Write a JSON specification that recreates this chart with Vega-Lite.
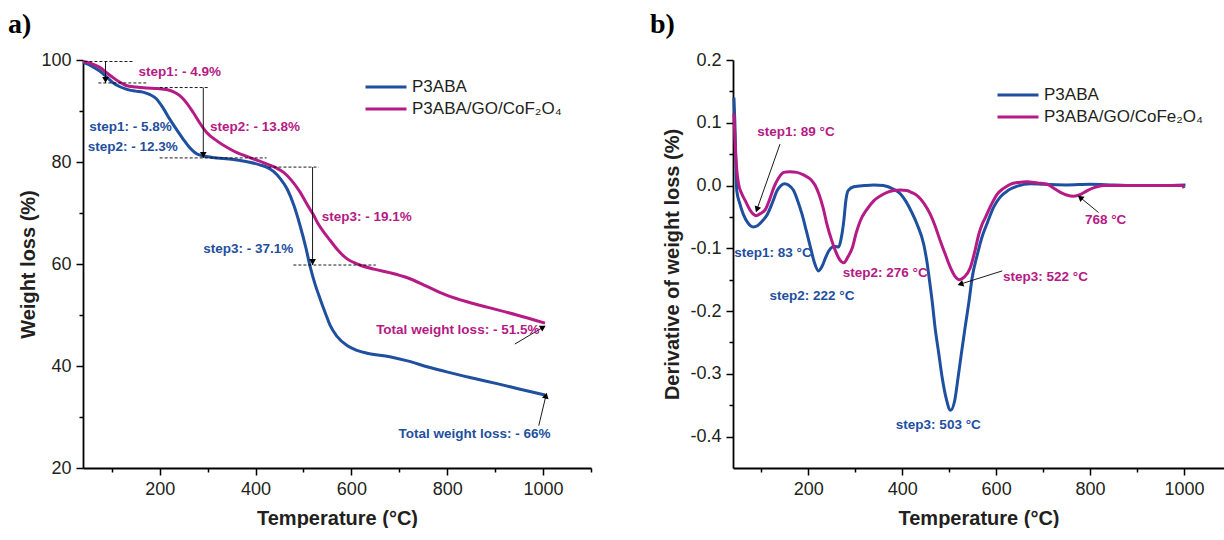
{
  "$schema": "https://vega.github.io/schema/vega-lite/v6.json",
  "padding": {"left": 7, "top": 11, "right": 0, "bottom": 0},
  "spacing": 57,
  "config": {
    "view": {"stroke": null},
    "axis": {"domainColor": "#000", "domainWidth": 1.8, "tickColor": "#000", "tickWidth": 1.5, "tickSize": 7, "labelFont": "Liberation Sans", "labelFontSize": 18, "labelColor": "#231f20", "labelPadding": 5, "titleFont": "Liberation Sans", "titleFontSize": 20, "titleFontWeight": "bold", "titleColor": "#231f20", "grid": false, "labelFlush": false},
    "text": {"font": "Liberation Sans", "fontWeight": "bold", "fontSize": 13.5}
  },
  "resolve": {"scale": {"color": "independent"}, "legend": {"color": "independent"}},
  "datasets": {
    "tga": [
      {"T":40,"W":99.5,"s":"P3ABA"},{"T":50,"W":99.2,"s":"P3ABA"},{"T":60,"W":98.7,"s":"P3ABA"},{"T":74,"W":97.9,"s":"P3ABA"},{"T":88,"W":96.8,"s":"P3ABA"},{"T":102,"W":95.6,"s":"P3ABA"},{"T":116,"W":94.8,"s":"P3ABA"},{"T":130,"W":94.3,"s":"P3ABA"},{"T":150,"W":93.9,"s":"P3ABA"},{"T":165,"W":93.7,"s":"P3ABA"},{"T":180,"W":93.2,"s":"P3ABA"},{"T":193,"W":92.4,"s":"P3ABA"},{"T":207,"W":90.6,"s":"P3ABA"},{"T":221,"W":88.4,"s":"P3ABA"},{"T":235,"W":86.4,"s":"P3ABA"},{"T":249,"W":84.5,"s":"P3ABA"},{"T":263,"W":82.8,"s":"P3ABA"},{"T":277,"W":81.6,"s":"P3ABA"},{"T":290,"W":81.2,"s":"P3ABA"},{"T":310,"W":80.9,"s":"P3ABA"},{"T":354,"W":80.5,"s":"P3ABA"},{"T":390,"W":79.9,"s":"P3ABA"},{"T":410,"W":79.4,"s":"P3ABA"},{"T":425,"W":78.9,"s":"P3ABA"},{"T":438,"W":78.1,"s":"P3ABA"},{"T":452,"W":76.7,"s":"P3ABA"},{"T":466,"W":74.7,"s":"P3ABA"},{"T":480,"W":71.5,"s":"P3ABA"},{"T":493,"W":67.5,"s":"P3ABA"},{"T":505,"W":63.2,"s":"P3ABA"},{"T":514,"W":59.5,"s":"P3ABA"},{"T":525,"W":55.8,"s":"P3ABA"},{"T":535,"W":53.1,"s":"P3ABA"},{"T":546,"W":50.3,"s":"P3ABA"},{"T":556,"W":47.9,"s":"P3ABA"},{"T":570,"W":45.8,"s":"P3ABA"},{"T":591,"W":44.0,"s":"P3ABA"},{"T":610,"W":43.1,"s":"P3ABA"},{"T":633,"W":42.5,"s":"P3ABA"},{"T":680,"W":41.8,"s":"P3ABA"},{"T":717,"W":41.0,"s":"P3ABA"},{"T":760,"W":39.8,"s":"P3ABA"},{"T":801,"W":38.8,"s":"P3ABA"},{"T":850,"W":37.7,"s":"P3ABA"},{"T":906,"W":36.5,"s":"P3ABA"},{"T":950,"W":35.5,"s":"P3ABA"},{"T":1004,"W":34.3,"s":"P3ABA"},
      {"T":40,"W":99.7,"s":"P3ABA/GO/CoF₂O₄"},{"T":55,"W":99.4,"s":"P3ABA/GO/CoF₂O₄"},{"T":74,"W":98.6,"s":"P3ABA/GO/CoF₂O₄"},{"T":88,"W":97.6,"s":"P3ABA/GO/CoF₂O₄"},{"T":102,"W":96.6,"s":"P3ABA/GO/CoF₂O₄"},{"T":116,"W":95.7,"s":"P3ABA/GO/CoF₂O₄"},{"T":130,"W":95.0,"s":"P3ABA/GO/CoF₂O₄"},{"T":150,"W":94.7,"s":"P3ABA/GO/CoF₂O₄"},{"T":172,"W":94.5,"s":"P3ABA/GO/CoF₂O₄"},{"T":195,"W":94.4,"s":"P3ABA/GO/CoF₂O₄"},{"T":214,"W":94.2,"s":"P3ABA/GO/CoF₂O₄"},{"T":228,"W":93.8,"s":"P3ABA/GO/CoF₂O₄"},{"T":242,"W":93.0,"s":"P3ABA/GO/CoF₂O₄"},{"T":256,"W":91.6,"s":"P3ABA/GO/CoF₂O₄"},{"T":270,"W":89.7,"s":"P3ABA/GO/CoF₂O₄"},{"T":284,"W":87.6,"s":"P3ABA/GO/CoF₂O₄"},{"T":298,"W":85.8,"s":"P3ABA/GO/CoF₂O₄"},{"T":320,"W":84.1,"s":"P3ABA/GO/CoF₂O₄"},{"T":340,"W":82.9,"s":"P3ABA/GO/CoF₂O₄"},{"T":360,"W":81.9,"s":"P3ABA/GO/CoF₂O₄"},{"T":382,"W":81.1,"s":"P3ABA/GO/CoF₂O₄"},{"T":404,"W":80.3,"s":"P3ABA/GO/CoF₂O₄"},{"T":424,"W":79.6,"s":"P3ABA/GO/CoF₂O₄"},{"T":442,"W":78.9,"s":"P3ABA/GO/CoF₂O₄"},{"T":458,"W":78.0,"s":"P3ABA/GO/CoF₂O₄"},{"T":475,"W":76.4,"s":"P3ABA/GO/CoF₂O₄"},{"T":493,"W":74.1,"s":"P3ABA/GO/CoF₂O₄"},{"T":508,"W":71.6,"s":"P3ABA/GO/CoF₂O₄"},{"T":521,"W":69.6,"s":"P3ABA/GO/CoF₂O₄"},{"T":530,"W":68.0,"s":"P3ABA/GO/CoF₂O₄"},{"T":542,"W":66.3,"s":"P3ABA/GO/CoF₂O₄"},{"T":556,"W":64.6,"s":"P3ABA/GO/CoF₂O₄"},{"T":572,"W":62.7,"s":"P3ABA/GO/CoF₂O₄"},{"T":591,"W":61.0,"s":"P3ABA/GO/CoF₂O₄"},{"T":615,"W":59.9,"s":"P3ABA/GO/CoF₂O₄"},{"T":647,"W":59.0,"s":"P3ABA/GO/CoF₂O₄"},{"T":680,"W":58.3,"s":"P3ABA/GO/CoF₂O₄"},{"T":717,"W":57.3,"s":"P3ABA/GO/CoF₂O₄"},{"T":760,"W":55.5,"s":"P3ABA/GO/CoF₂O₄"},{"T":801,"W":53.8,"s":"P3ABA/GO/CoF₂O₄"},{"T":845,"W":52.5,"s":"P3ABA/GO/CoF₂O₄"},{"T":885,"W":51.5,"s":"P3ABA/GO/CoF₂O₄"},{"T":945,"W":50.0,"s":"P3ABA/GO/CoF₂O₄"},{"T":1004,"W":48.4,"s":"P3ABA/GO/CoF₂O₄"}
    ],
    "dtg": [
      {"T":42,"D":0.140,"s":"P3ABA"},{"T":44,"D":0.10,"s":"P3ABA"},{"T":46,"D":0.04,"s":"P3ABA"},{"T":48,"D":-0.008,"s":"P3ABA"},{"T":55,"D":-0.030,"s":"P3ABA"},{"T":62,"D":-0.046,"s":"P3ABA"},{"T":72,"D":-0.060,"s":"P3ABA"},{"T":83,"D":-0.066,"s":"P3ABA"},{"T":92,"D":-0.064,"s":"P3ABA"},{"T":102,"D":-0.057,"s":"P3ABA"},{"T":113,"D":-0.046,"s":"P3ABA"},{"T":124,"D":-0.027,"s":"P3ABA"},{"T":134,"D":-0.008,"s":"P3ABA"},{"T":142,"D":0.000,"s":"P3ABA"},{"T":150,"D":0.003,"s":"P3ABA"},{"T":158,"D":0.001,"s":"P3ABA"},{"T":169,"D":-0.008,"s":"P3ABA"},{"T":178,"D":-0.025,"s":"P3ABA"},{"T":187,"D":-0.046,"s":"P3ABA"},{"T":196,"D":-0.072,"s":"P3ABA"},{"T":205,"D":-0.099,"s":"P3ABA"},{"T":213,"D":-0.122,"s":"P3ABA"},{"T":222,"D":-0.136,"s":"P3ABA"},{"T":230,"D":-0.128,"s":"P3ABA"},{"T":237,"D":-0.115,"s":"P3ABA"},{"T":244,"D":-0.104,"s":"P3ABA"},{"T":251,"D":-0.098,"s":"P3ABA"},{"T":258,"D":-0.097,"s":"P3ABA"},{"T":265,"D":-0.098,"s":"P3ABA"},{"T":270,"D":-0.085,"s":"P3ABA"},{"T":276,"D":-0.055,"s":"P3ABA"},{"T":280,"D":-0.025,"s":"P3ABA"},{"T":285,"D":-0.008,"s":"P3ABA"},{"T":297,"D":-0.002,"s":"P3ABA"},{"T":320,"D":0.000,"s":"P3ABA"},{"T":340,"D":0.001,"s":"P3ABA"},{"T":360,"D":0.000,"s":"P3ABA"},{"T":382,"D":-0.006,"s":"P3ABA"},{"T":396,"D":-0.013,"s":"P3ABA"},{"T":407,"D":-0.024,"s":"P3ABA"},{"T":420,"D":-0.042,"s":"P3ABA"},{"T":432,"D":-0.062,"s":"P3ABA"},{"T":446,"D":-0.094,"s":"P3ABA"},{"T":452,"D":-0.118,"s":"P3ABA"},{"T":458,"D":-0.150,"s":"P3ABA"},{"T":464,"D":-0.185,"s":"P3ABA"},{"T":470,"D":-0.226,"s":"P3ABA"},{"T":478,"D":-0.268,"s":"P3ABA"},{"T":485,"D":-0.305,"s":"P3ABA"},{"T":494,"D":-0.340,"s":"P3ABA"},{"T":503,"D":-0.358,"s":"P3ABA"},{"T":512,"D":-0.342,"s":"P3ABA"},{"T":519,"D":-0.306,"s":"P3ABA"},{"T":526,"D":-0.268,"s":"P3ABA"},{"T":534,"D":-0.226,"s":"P3ABA"},{"T":542,"D":-0.186,"s":"P3ABA"},{"T":549,"D":-0.147,"s":"P3ABA"},{"T":560,"D":-0.110,"s":"P3ABA"},{"T":570,"D":-0.082,"s":"P3ABA"},{"T":581,"D":-0.060,"s":"P3ABA"},{"T":595,"D":-0.034,"s":"P3ABA"},{"T":609,"D":-0.018,"s":"P3ABA"},{"T":625,"D":-0.008,"s":"P3ABA"},{"T":645,"D":-0.001,"s":"P3ABA"},{"T":673,"D":0.003,"s":"P3ABA"},{"T":700,"D":0.002,"s":"P3ABA"},{"T":750,"D":0.001,"s":"P3ABA"},{"T":800,"D":0.002,"s":"P3ABA"},{"T":850,"D":0.001,"s":"P3ABA"},{"T":900,"D":0.000,"s":"P3ABA"},{"T":950,"D":0.000,"s":"P3ABA"},{"T":1003,"D":0.001,"s":"P3ABA"},
      {"T":42,"D":0.115,"s":"P3ABA/GO/CoFe₂O₄"},{"T":45,"D":0.06,"s":"P3ABA/GO/CoFe₂O₄"},{"T":48,"D":0.025,"s":"P3ABA/GO/CoFe₂O₄"},{"T":52,"D":0.002,"s":"P3ABA/GO/CoFe₂O₄"},{"T":58,"D":-0.012,"s":"P3ABA/GO/CoFe₂O₄"},{"T":66,"D":-0.024,"s":"P3ABA/GO/CoFe₂O₄"},{"T":77,"D":-0.040,"s":"P3ABA/GO/CoFe₂O₄"},{"T":89,"D":-0.048,"s":"P3ABA/GO/CoFe₂O₄"},{"T":100,"D":-0.044,"s":"P3ABA/GO/CoFe₂O₄"},{"T":109,"D":-0.038,"s":"P3ABA/GO/CoFe₂O₄"},{"T":118,"D":-0.022,"s":"P3ABA/GO/CoFe₂O₄"},{"T":127,"D":-0.003,"s":"P3ABA/GO/CoFe₂O₄"},{"T":137,"D":0.012,"s":"P3ABA/GO/CoFe₂O₄"},{"T":148,"D":0.021,"s":"P3ABA/GO/CoFe₂O₄"},{"T":160,"D":0.022,"s":"P3ABA/GO/CoFe₂O₄"},{"T":176,"D":0.021,"s":"P3ABA/GO/CoFe₂O₄"},{"T":190,"D":0.017,"s":"P3ABA/GO/CoFe₂O₄"},{"T":205,"D":0.010,"s":"P3ABA/GO/CoFe₂O₄"},{"T":215,"D":0.000,"s":"P3ABA/GO/CoFe₂O₄"},{"T":223,"D":-0.014,"s":"P3ABA/GO/CoFe₂O₄"},{"T":232,"D":-0.036,"s":"P3ABA/GO/CoFe₂O₄"},{"T":240,"D":-0.062,"s":"P3ABA/GO/CoFe₂O₄"},{"T":249,"D":-0.085,"s":"P3ABA/GO/CoFe₂O₄"},{"T":258,"D":-0.104,"s":"P3ABA/GO/CoFe₂O₄"},{"T":267,"D":-0.118,"s":"P3ABA/GO/CoFe₂O₄"},{"T":276,"D":-0.123,"s":"P3ABA/GO/CoFe₂O₄"},{"T":285,"D":-0.113,"s":"P3ABA/GO/CoFe₂O₄"},{"T":294,"D":-0.099,"s":"P3ABA/GO/CoFe₂O₄"},{"T":302,"D":-0.076,"s":"P3ABA/GO/CoFe₂O₄"},{"T":311,"D":-0.056,"s":"P3ABA/GO/CoFe₂O₄"},{"T":325,"D":-0.038,"s":"P3ABA/GO/CoFe₂O₄"},{"T":340,"D":-0.024,"s":"P3ABA/GO/CoFe₂O₄"},{"T":355,"D":-0.016,"s":"P3ABA/GO/CoFe₂O₄"},{"T":368,"D":-0.011,"s":"P3ABA/GO/CoFe₂O₄"},{"T":382,"D":-0.008,"s":"P3ABA/GO/CoFe₂O₄"},{"T":396,"D":-0.007,"s":"P3ABA/GO/CoFe₂O₄"},{"T":410,"D":-0.008,"s":"P3ABA/GO/CoFe₂O₄"},{"T":420,"D":-0.011,"s":"P3ABA/GO/CoFe₂O₄"},{"T":432,"D":-0.016,"s":"P3ABA/GO/CoFe₂O₄"},{"T":446,"D":-0.028,"s":"P3ABA/GO/CoFe₂O₄"},{"T":460,"D":-0.046,"s":"P3ABA/GO/CoFe₂O₄"},{"T":470,"D":-0.064,"s":"P3ABA/GO/CoFe₂O₄"},{"T":481,"D":-0.088,"s":"P3ABA/GO/CoFe₂O₄"},{"T":492,"D":-0.110,"s":"P3ABA/GO/CoFe₂O₄"},{"T":503,"D":-0.131,"s":"P3ABA/GO/CoFe₂O₄"},{"T":513,"D":-0.145,"s":"P3ABA/GO/CoFe₂O₄"},{"T":522,"D":-0.150,"s":"P3ABA/GO/CoFe₂O₄"},{"T":532,"D":-0.146,"s":"P3ABA/GO/CoFe₂O₄"},{"T":545,"D":-0.131,"s":"P3ABA/GO/CoFe₂O₄"},{"T":554,"D":-0.107,"s":"P3ABA/GO/CoFe₂O₄"},{"T":563,"D":-0.078,"s":"P3ABA/GO/CoFe₂O₄"},{"T":570,"D":-0.062,"s":"P3ABA/GO/CoFe₂O₄"},{"T":577,"D":-0.051,"s":"P3ABA/GO/CoFe₂O₄"},{"T":590,"D":-0.030,"s":"P3ABA/GO/CoFe₂O₄"},{"T":602,"D":-0.014,"s":"P3ABA/GO/CoFe₂O₄"},{"T":615,"D":-0.005,"s":"P3ABA/GO/CoFe₂O₄"},{"T":630,"D":0.002,"s":"P3ABA/GO/CoFe₂O₄"},{"T":648,"D":0.005,"s":"P3ABA/GO/CoFe₂O₄"},{"T":666,"D":0.006,"s":"P3ABA/GO/CoFe₂O₄"},{"T":688,"D":0.004,"s":"P3ABA/GO/CoFe₂O₄"},{"T":709,"D":0.002,"s":"P3ABA/GO/CoFe₂O₄"},{"T":722,"D":-0.004,"s":"P3ABA/GO/CoFe₂O₄"},{"T":737,"D":-0.011,"s":"P3ABA/GO/CoFe₂O₄"},{"T":750,"D":-0.015,"s":"P3ABA/GO/CoFe₂O₄"},{"T":765,"D":-0.017,"s":"P3ABA/GO/CoFe₂O₄"},{"T":780,"D":-0.014,"s":"P3ABA/GO/CoFe₂O₄"},{"T":794,"D":-0.008,"s":"P3ABA/GO/CoFe₂O₄"},{"T":810,"D":-0.003,"s":"P3ABA/GO/CoFe₂O₄"},{"T":829,"D":0.000,"s":"P3ABA/GO/CoFe₂O₄"},{"T":870,"D":0.000,"s":"P3ABA/GO/CoFe₂O₄"},{"T":914,"D":0.000,"s":"P3ABA/GO/CoFe₂O₄"},{"T":960,"D":0.000,"s":"P3ABA/GO/CoFe₂O₄"},{"T":996,"D":0.000,"s":"P3ABA/GO/CoFe₂O₄"},{"T":1000,"D":-0.004,"s":"P3ABA/GO/CoFe₂O₄"}
    ],
    "dashA": [
      {"y":99.7,"x1":43,"x2":144},{"y":95.5,"x1":72,"x2":172},{"y":94.6,"x1":200,"x2":301},{"y":80.8,"x1":200,"x2":423},{"y":79.0,"x1":427,"x2":532},{"y":59.8,"x1":479,"x2":651}
    ],
    "vArrA": [
      {"x":87,"y":99.7,"y2":95.5},{"x":291,"y":94.6,"y2":80.8},{"x":519,"y":79.0,"y2":59.8}
    ],
    "oArrA": [
      {"id":"totM","x":941,"y":44.3,"x2":1000,"y2":47.6},{"id":"totB","x":991,"y":28.3,"x2":1006,"y2":34.2}
    ],
    "oArrB": [
      {"id":"s1","x":140,"y":0.066,"x2":91,"y2":-0.038},{"id":"s3","x":613,"y":-0.136,"x2":524,"y2":-0.157},{"id":"s768","x":818,"y":-0.043,"x2":779,"y2":-0.019}
    ],
    "txtA": [
      {"T":242,"W":97.6,"label":"step1: - 4.9%","s":"P3ABA/GO/CoF₂O₄"},
      {"T":399,"W":86.8,"label":"step2: - 13.8%","s":"P3ABA/GO/CoF₂O₄"},
      {"T":139,"W":86.8,"label":"step1: - 5.8%","s":"P3ABA"},
      {"T":144,"W":82.9,"label":"step2: - 12.3%","s":"P3ABA"},
      {"T":385,"W":62.9,"label":"step3: - 37.1%","s":"P3ABA"},
      {"T":632,"W":69.2,"label":"step3: - 19.1%","s":"P3ABA/GO/CoF₂O₄"},
      {"T":822,"W":47.1,"label":"Total weight loss: - 51.5%","s":"P3ABA/GO/CoF₂O₄"},
      {"T":857,"W":26.7,"label":"Total weight loss: - 66%","s":"P3ABA"}
    ],
    "txtB": [
      {"T":174,"D":0.086,"label":"step1: 89 °C","s":"P3ABA/GO/CoFe₂O₄"},
      {"T":125,"D":-0.108,"label":"step1: 83 °C","s":"P3ABA"},
      {"T":208,"D":-0.176,"label":"step2: 222 °C","s":"P3ABA"},
      {"T":364,"D":-0.140,"label":"step2: 276 °C","s":"P3ABA/GO/CoFe₂O₄"},
      {"T":477,"D":-0.381,"label":"step3: 503 °C","s":"P3ABA"},
      {"T":705,"D":-0.145,"label":"step3: 522 °C","s":"P3ABA/GO/CoFe₂O₄"},
      {"T":833,"D":-0.055,"label":"768 °C","s":"P3ABA/GO/CoFe₂O₄"}
    ]
  },
  "hconcat": [
    {
      "width": 508, "height": 408,
      "title": {"text": "a)", "anchor": "start", "frame": "bounds", "font": "Liberation Serif", "fontSize": 28, "fontWeight": "bold", "color": "#000", "dx": -11, "baseline": "alphabetic", "offset": -10},
      "resolve": {"axis": {"x": "independent", "y": "independent"}},
      "layer": [
        {"data": {"name": "tga"}, "mark": {"type": "line", "strokeWidth": 3, "interpolate": "monotone"},
         "encoding": {
           "x": {"field": "T", "type": "quantitative", "scale": {"domain": [40, 1100], "nice": false, "zero": false}, "axis": {"values": [200, 400, 600, 800, 1000], "format": "d", "title": "Temperature (°C)", "titlePadding": 10, "orient": "bottom"}},
           "y": {"field": "W", "type": "quantitative", "scale": {"domain": [20, 100], "nice": false, "zero": false}, "axis": {"values": [20, 40, 60, 80, 100], "format": "d", "title": "Weight loss (%)", "titlePadding": 2, "orient": "left"}},
           "color": {"field": "s", "type": "nominal", "scale": {"domain": ["P3ABA", "P3ABA/GO/CoF₂O₄"], "range": ["#1f4f9f", "#b51a85"]},
             "legend": {"orient": "none", "legendX": 291, "legendY": 15, "title": null, "symbolType": "M-2,0L2,0", "symbolSize": 420, "symbolStrokeWidth": 3, "symbolFillColor": "transparent", "labelFontSize": 17, "labelFont": "Liberation Sans", "labelColor": "#231f20", "labelOffset": 14, "rowPadding": 2, "padding": 0}}
         }},
        {"data": {"name": "dashA"}, "mark": {"type": "rule", "strokeDash": [3, 2], "strokeWidth": 0.9, "color": "#000"},
         "encoding": {
           "x": {"field": "x1", "type": "quantitative", "axis": {"values": [100, 300, 500, 700, 900, 1100], "labels": false, "domain": false, "tickSize": 4, "title": null, "orient": "bottom"}},
           "x2": {"field": "x2"},
           "y": {"field": "y", "type": "quantitative", "axis": {"values": [30, 50, 70, 90], "labels": false, "domain": false, "tickSize": 4, "title": null, "orient": "left"}}
         }},
        {"data": {"name": "vArrA"}, "mark": {"type": "rule", "strokeWidth": 0.9, "color": "#000"},
         "encoding": {
           "x": {"field": "x", "type": "quantitative", "axis": null},
           "y": {"field": "y", "type": "quantitative", "axis": null},
           "y2": {"field": "y2"}
         }},
        {"data": {"name": "vArrA"}, "mark": {"type": "point", "shape": "triangle-down", "filled": true, "color": "#000", "opacity": 1, "size": 45, "yOffset": -3},
         "encoding": {
           "x": {"field": "x", "type": "quantitative", "axis": null},
           "y": {"field": "y2", "type": "quantitative", "axis": null}
         }},
        {"data": {"name": "oArrA"}, "mark": {"type": "rule", "strokeWidth": 0.9, "color": "#000"},
         "encoding": {
           "x": {"field": "x", "type": "quantitative", "axis": null},
           "y": {"field": "y", "type": "quantitative", "axis": null},
           "x2": {"field": "x2"},
           "y2": {"field": "y2"}
         }},
        {"data": {"name": "oArrA"}, "transform": [{"filter": "datum.id == 'totM'"}], "mark": {"type": "point", "shape": "triangle-up", "filled": true, "color": "#000", "opacity": 1, "size": 45, "angle": 59.5},
         "encoding": {
           "x": {"field": "x2", "type": "quantitative", "axis": null},
           "y": {"field": "y2", "type": "quantitative", "axis": null}
         }},
        {"data": {"name": "oArrA"}, "transform": [{"filter": "datum.id == 'totB'"}], "mark": {"type": "point", "shape": "triangle-up", "filled": true, "color": "#000", "opacity": 1, "size": 45, "angle": 13},
         "encoding": {
           "x": {"field": "x2", "type": "quantitative", "axis": null},
           "y": {"field": "y2", "type": "quantitative", "axis": null}
         }},
        {"data": {"name": "txtA"}, "mark": {"type": "text", "align": "center", "baseline": "middle"},
         "encoding": {
           "x": {"field": "T", "type": "quantitative", "axis": null},
           "y": {"field": "W", "type": "quantitative", "axis": null},
           "text": {"field": "label"},
           "color": {"field": "s", "type": "nominal", "legend": null}
         }}
      ]
    },
    {
      "width": 491, "height": 408,
      "title": {"text": "b)", "anchor": "start", "frame": "bounds", "font": "Liberation Serif", "fontSize": 28, "fontWeight": "bold", "color": "#000", "dx": -13, "baseline": "alphabetic", "offset": -10},
      "resolve": {"axis": {"x": "independent", "y": "independent"}},
      "layer": [
        {"data": {"name": "dtg"}, "mark": {"type": "line", "strokeWidth": 3, "interpolate": "monotone"},
         "encoding": {
           "x": {"field": "T", "type": "quantitative", "scale": {"domain": [40, 1085], "nice": false, "zero": false}, "axis": {"values": [200, 400, 600, 800, 1000], "format": "d", "title": "Temperature (°C)", "titlePadding": 10, "orient": "bottom"}},
           "y": {"field": "D", "type": "quantitative", "scale": {"domain": [-0.45, 0.2], "nice": false, "zero": false}, "axis": {"values": [-0.4, -0.3, -0.2, -0.1, 0, 0.1, 0.2], "labelExpr": "datum.value < -0.001 ? '-' + format(-datum.value, '.1f') : format(abs(datum.value), '.1f')", "title": "Derivative of weight loss (%)", "titlePadding": 7, "orient": "left"}},
           "color": {"field": "s", "type": "nominal", "scale": {"domain": ["P3ABA", "P3ABA/GO/CoFe₂O₄"], "range": ["#1f4f9f", "#b51a85"]},
             "legend": {"orient": "none", "legendX": 273, "legendY": 23, "title": null, "symbolType": "M-2,0L2,0", "symbolSize": 420, "symbolStrokeWidth": 3, "symbolFillColor": "transparent", "labelFontSize": 17, "labelFont": "Liberation Sans", "labelColor": "#231f20", "labelOffset": 14, "rowPadding": 2, "padding": 0}}
         }},
        {"data": {"name": "oArrB"}, "mark": {"type": "rule", "strokeWidth": 0.9, "color": "#000"},
         "encoding": {
           "x": {"field": "x", "type": "quantitative", "axis": {"values": [100, 300, 500, 700, 900], "labels": false, "domain": false, "tickSize": 4, "title": null, "orient": "bottom"}},
           "y": {"field": "y", "type": "quantitative", "axis": {"values": [-0.35, -0.25, -0.15, -0.05, 0.05, 0.15], "labels": false, "domain": false, "tickSize": 4, "title": null, "orient": "left"}},
           "x2": {"field": "x2"},
           "y2": {"field": "y2"}
         }},
        {"data": {"name": "oArrB"}, "transform": [{"filter": "datum.id == 's1'"}], "mark": {"type": "point", "shape": "triangle-up", "filled": true, "color": "#000", "opacity": 1, "size": 45, "angle": 199},
         "encoding": {
           "x": {"field": "x2", "type": "quantitative", "axis": null},
           "y": {"field": "y2", "type": "quantitative", "axis": null}
         }},
        {"data": {"name": "oArrB"}, "transform": [{"filter": "datum.id == 's3'"}], "mark": {"type": "point", "shape": "triangle-up", "filled": true, "color": "#000", "opacity": 1, "size": 45, "angle": 252},
         "encoding": {
           "x": {"field": "x2", "type": "quantitative", "axis": null},
           "y": {"field": "y2", "type": "quantitative", "axis": null}
         }},
        {"data": {"name": "oArrB"}, "transform": [{"filter": "datum.id == 's768'"}], "mark": {"type": "point", "shape": "triangle-up", "filled": true, "color": "#000", "opacity": 1, "size": 45, "angle": 309},
         "encoding": {
           "x": {"field": "x2", "type": "quantitative", "axis": null},
           "y": {"field": "y2", "type": "quantitative", "axis": null}
         }},
        {"data": {"name": "txtB"}, "mark": {"type": "text", "align": "center", "baseline": "middle"},
         "encoding": {
           "x": {"field": "T", "type": "quantitative", "axis": null},
           "y": {"field": "D", "type": "quantitative", "axis": null},
           "text": {"field": "label"},
           "color": {"field": "s", "type": "nominal", "legend": null}
         }}
      ]
    }
  ]
}
